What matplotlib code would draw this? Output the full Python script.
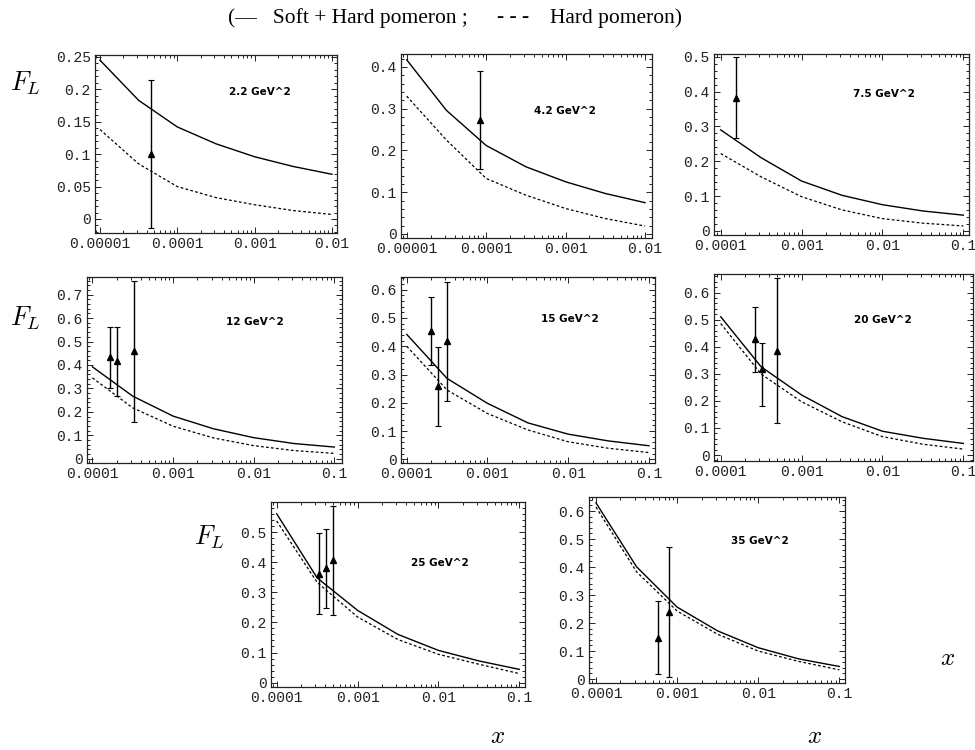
import numpy as np
import matplotlib.pyplot as plt
from matplotlib.ticker import FixedLocator, LogLocator, AutoMinorLocator, NullFormatter
from matplotlib.transforms import Bbox

plt.rcParams['mathtext.fontset'] = 'cm'

# Q^2 of each panel
q2_text = ['2.2 GeV^2', '4.2 GeV^2', '7.5 GeV^2', '12 GeV^2',
           '15 GeV^2', '20 GeV^2', '25 GeV^2', '35 GeV^2']

# x grids on which the model curves are tabulated (half decades)
x_low = [1e-5, 3.162e-5, 1e-4, 3.162e-4, 1e-3, 3.162e-3, 1e-2]
x_high = [1e-4, 3.162e-4, 1e-3, 3.162e-3, 1e-2, 3.162e-2, 1e-1]
x_grid = [x_low, x_low, x_high, x_high, x_high, x_high, x_high, x_high]

# F_L, soft + hard pomeron
fl_soft_hard = [
    [0.245, 0.183, 0.142, 0.116, 0.096, 0.081, 0.069],
    [0.417, 0.296, 0.212, 0.161, 0.125, 0.097, 0.075],
    [0.290, 0.210, 0.143, 0.102, 0.075, 0.057, 0.045],
    [0.392, 0.267, 0.182, 0.128, 0.090, 0.065, 0.050],
    [0.442, 0.286, 0.198, 0.129, 0.089, 0.065, 0.048],
    [0.511, 0.326, 0.222, 0.142, 0.088, 0.062, 0.043],
    [0.561, 0.348, 0.240, 0.160, 0.107, 0.072, 0.044],
    [0.629, 0.401, 0.257, 0.172, 0.112, 0.072, 0.045],
]
# F_L, hard pomeron only
fl_hard = [
    [0.138, 0.085, 0.050, 0.033, 0.022, 0.013, 0.007],
    [0.330, 0.225, 0.133, 0.093, 0.061, 0.037, 0.019],
    [0.222, 0.155, 0.098, 0.060, 0.035, 0.022, 0.014],
    [0.345, 0.217, 0.139, 0.089, 0.056, 0.035, 0.023],
    [0.400, 0.245, 0.162, 0.104, 0.062, 0.039, 0.024],
    [0.486, 0.299, 0.197, 0.123, 0.068, 0.040, 0.022],
    [0.537, 0.333, 0.218, 0.143, 0.094, 0.061, 0.030],
    [0.614, 0.383, 0.243, 0.160, 0.100, 0.063, 0.033],
]

# measured F_L with error bar ends
data_x = [[4.5e-5], [8.4e-5], [1.53e-4], [1.64e-4, 2.0e-4, 3.25e-4],
          [2.0e-4, 2.44e-4, 3.19e-4], [2.65e-4, 3.27e-4, 4.9e-4],
          [3.33e-4, 4.07e-4, 4.95e-4], [5.75e-4, 7.96e-4]]
data_y = [[0.100], [0.272], [0.383], [0.433, 0.416, 0.459],
          [0.454, 0.260, 0.418], [0.430, 0.319, 0.385],
          [0.362, 0.381, 0.408], [0.148, 0.241]]
data_lo = [[-0.014], [0.155], [0.267], [0.300, 0.267, 0.156],
           [0.333, 0.119, 0.207], [0.307, 0.182, 0.119],
           [0.227, 0.249, 0.226], [0.019, 0.009]]
data_hi = [[0.214], [0.390], [0.498], [0.561, 0.563, 0.757],
           [0.574, 0.398, 0.627], [0.548, 0.415, 0.653],
           [0.497, 0.511, 0.586], [0.280, 0.470]]

# y tick values of each panel
y_ticks = [[0, 0.05, 0.1, 0.15, 0.2, 0.25],
           [0, 0.1, 0.2, 0.3, 0.4],
           [0, 0.1, 0.2, 0.3, 0.4, 0.5],
           [0, 0.1, 0.2, 0.3, 0.4, 0.5, 0.6, 0.7],
           [0, 0.1, 0.2, 0.3, 0.4, 0.5, 0.6],
           [0, 0.1, 0.2, 0.3, 0.4, 0.5, 0.6],
           [0, 0.1, 0.2, 0.3, 0.4, 0.5],
           [0, 0.1, 0.2, 0.3, 0.4, 0.5, 0.6]]
x_ticks_low = [1e-5, 1e-4, 1e-3, 1e-2]
x_ticks_high = [1e-4, 1e-3, 1e-2, 1e-1]

# layout: frame boxes in pixels (left, top, right, bottom), limits
W, H = 975, 750
frames = [(95, 55, 337, 233), (401, 54, 652, 238), (714, 54, 969, 235),
          (87, 277, 342, 463), (401, 277, 655, 463), (714, 274, 973, 461),
          (271, 502, 525, 687), (589, 497, 845, 683)]
xlims = [(-5.065, -1.935), (-5.072, -1.912), (-4.083, -0.930),
         (-4.067, -0.905), (-4.071, -0.926), (-4.083, -0.880),
         (-4.070, -0.930), (-4.086, -0.930)]
ylims = [(-0.0216, 0.253), (-0.0096, 0.431), (-0.012, 0.508),
         (-0.018, 0.775), (-0.013, 0.645), (-0.022, 0.669),
         (-0.0146, 0.600), (-0.014, 0.650)]
label_pos = [(0.555, 0.79), (0.53, 0.69), (0.544, 0.78), (0.545, 0.76),
             (0.55, 0.774), (0.54, 0.754), (0.55, 0.669), (0.553, 0.763)]

tick_font = {'family': 'Liberation Mono', 'size': 10.5}

fig = plt.figure(figsize=(W / 100, H / 100), dpi=100)
axes = []
for i in range(8):
    l, t, r, b = frames[i]
    ax = fig.add_axes([l / W, 1 - b / H, (r - l) / W, (b - t) / H])
    axes.append(ax)

    ax.plot(x_grid[i], fl_soft_hard[i], color='black', lw=1.0)
    ax.plot(x_grid[i], fl_hard[i], color='black', lw=0.9, dashes=(2.2, 1.8))
    y = np.array(data_y[i])
    yerr = [y - np.array(data_lo[i]), np.array(data_hi[i]) - y]
    ax.errorbar(data_x[i], y, yerr=yerr, fmt='^', color='black', ms=4.5,
                elinewidth=1.0, capsize=2, capthick=0.8)

    ax.set_xscale('log')
    ax.set_xlim(10 ** xlims[i][0], 10 ** xlims[i][1])
    ax.set_ylim(*ylims[i])

    xt = x_ticks_low if i < 2 else x_ticks_high
    ax.xaxis.set_major_locator(FixedLocator(xt))
    ax.set_xticklabels([np.format_float_positional(v) for v in xt], fontdict=tick_font)
    ax.xaxis.set_minor_locator(LogLocator(base=10, subs=np.arange(2, 10)))
    ax.xaxis.set_minor_formatter(NullFormatter())
    ax.set_yticks(y_ticks[i])
    ax.set_yticklabels(['%g' % v for v in y_ticks[i]], fontdict=tick_font)
    ax.yaxis.set_minor_locator(AutoMinorLocator(5))

    ax.tick_params(which='both', direction='in', top=True, right=True,
                   colors='#222222', width=0.7)
    ax.tick_params(which='major', length=4)
    ax.tick_params(which='minor', length=2)
    ax.tick_params(axis='x', pad=3)
    ax.tick_params(axis='y', pad=3)
    for s in ax.spines.values():
        s.set_linewidth(0.9)
        s.set_color('#222222')

    ax.text(label_pos[i][0], label_pos[i][1], q2_text[i], transform=ax.transAxes,
            fontsize=7.5, fontweight='bold', ha='left', va='center')

# axis titles
for (px, py) in [(25, 83), (25, 318), (209, 537)]:
    fig.text(px / W, 1 - py / H, r'$F_L$', fontsize=19, ha='center', va='center')
for (px, py) in [(948, 658), (498, 736), (815, 736)]:
    fig.text(px / W, 1 - py / H, r'$x$', fontsize=18, ha='center', va='center')

# curve key at the top
key_font = {'family': 'Liberation Serif', 'size': 15.5}
fig.text(228 / W, 1 - 18 / H, u'(\u2014   Soft + Hard pomeron ;',
         fontdict=key_font, ha='left', va='center')
fig.text(497 / W, 1 - 18 / H, u'- - -', fontdict=key_font, ha='left', va='center')
fig.text(682 / W, 1 - 18 / H, u'Hard pomeron)', fontdict=key_font,
         ha='right', va='center')

# the x labels of the top right panel are cut at the bottom
fig.canvas.draw()
clip = Bbox([[0, H - 251], [W, H]])
for lab in axes[2].get_xticklabels():
    lab.set_clip_box(clip)
    lab.set_clip_on(True)

fig.savefig('out.png', dpi=100)
